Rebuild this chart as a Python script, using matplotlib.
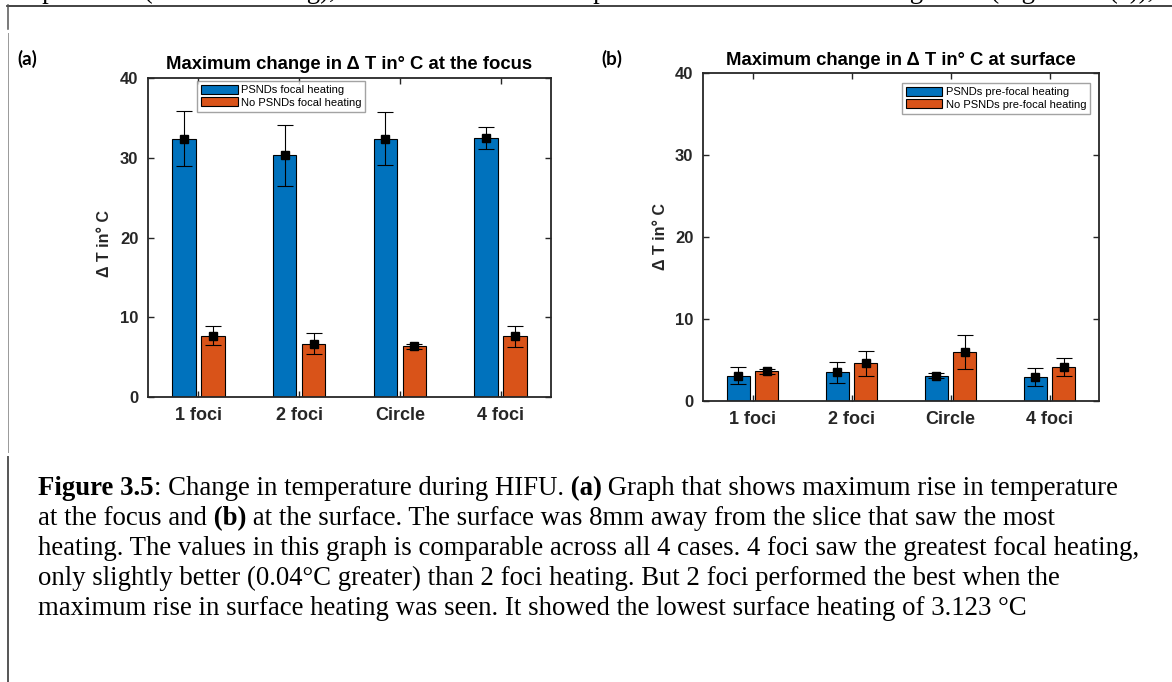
import numpy as np
import matplotlib
matplotlib.use("Agg")
import matplotlib.pyplot as plt

plt.rcParams['font.family'] = ['Liberation Sans', 'DejaVu Sans']
plt.rcParams['font.weight'] = 'bold'
plt.rcParams['axes.titleweight'] = 'bold'
plt.rcParams['axes.labelweight'] = 'bold'

# --- data ---
categories = ['1 foci', '2 foci', 'Circle', '4 foci']

focus_psnd = [32.4, 30.3, 32.4, 32.5]
focus_psnd_err = [3.4, 3.85, 3.3, 1.4]
focus_nopsnd = [7.7, 6.7, 6.35, 7.6]
focus_nopsnd_err = [1.15, 1.35, 0.35, 1.3]

surface_psnd = [3.1, 3.5, 3.1, 2.95]
surface_psnd_err = [1.0, 1.3, 0.35, 1.1]
surface_nopsnd = [3.6, 4.6, 5.95, 4.2]
surface_nopsnd_err = [0.3, 1.55, 2.05, 1.1]

yticks = [0, 10, 20, 30, 40]

blue = '#0072BD'
orange = '#D95319'
dark = '#262626'

W, H = 1172, 682
fig = plt.figure(figsize=(W / 100, H / 100), dpi=100)


def draw_panel(ax, psnd, psnd_err, nopsnd, nopsnd_err, title, leg_labels, leg_loc, leg_anchor, title_pad):
    x = np.arange(1, len(categories) + 1)
    off, w = 0.145, 0.233
    ax.bar(x - off, psnd, w, color=blue, edgecolor='k', linewidth=0.8, label=leg_labels[0])
    ax.bar(x + off, nopsnd, w, color=orange, edgecolor='k', linewidth=0.8, label=leg_labels[1])
    for xs, vals, errs in [(x - off, psnd, psnd_err), (x + off, nopsnd, nopsnd_err)]:
        ax.errorbar(xs, vals, yerr=errs, fmt='s', color='k', ms=5.5, ecolor='k',
                    elinewidth=0.8, capsize=5.5, capthick=0.8)
    ax.set_xlim(0.5, 4.5)
    ax.set_ylim(0, 40)
    ax.set_yticks(yticks)
    ax.set_xticks(x)
    ax.set_xticklabels(categories)
    ax.tick_params(direction='in', top=True, right=True, length=4, width=1,
                   color=dark, labelcolor=dark, labelsize=12)
    ax.tick_params(axis='y', pad=7)
    ax.tick_params(axis='x', pad=7, labelsize=13)
    for s in ax.spines.values():
        s.set_linewidth(1.3)
        s.set_color(dark)
    ax.set_title(title, fontsize=13.3, pad=title_pad, color='k')
    ax.set_ylabel('Δ T in° C', fontsize=11.5, color=dark)
    leg = ax.legend(loc=leg_loc, bbox_to_anchor=leg_anchor, borderaxespad=0,
                    prop={'size': 8, 'weight': 'normal'}, fancybox=False,
                    handlelength=3.3, handleheight=0.85, labelspacing=0.2,
                    borderpad=0.35, handletextpad=0.3)
    leg.get_frame().set_edgecolor('#8c8c8c')
    leg.get_frame().set_linewidth(1.0)
    return ax


ax1 = fig.add_axes([148 / W, 1 - 397 / H, 403 / W, 319 / H])
draw_panel(ax1, focus_psnd, focus_psnd_err, focus_nopsnd, focus_nopsnd_err,
           'Maximum change in Δ T in° C at the focus',
           ['PSNDs focal heating', 'No PSNDs focal heating'],
           'upper left', (0.1216, 0.9906), 6.5)
ax1.yaxis.set_label_coords(-0.089, 0.48)

ax2 = fig.add_axes([703 / W, 1 - 401 / H, 396 / W, 328 / H])
draw_panel(ax2, surface_psnd, surface_psnd_err, surface_nopsnd, surface_nopsnd_err,
           'Maximum change in Δ T in° C at surface',
           ['PSNDs pre-focal heating', 'No PSNDs pre-focal heating'],
           'upper right', (0.977, 0.9695), 6)
ax2.yaxis.set_label_coords(-0.088, 0.5)

# --- page overlay: frame lines, panel letters, caption ---
page = fig.add_axes([0, 0, 1, 1], zorder=-1)
page.set_xlim(0, W)
page.set_ylim(H, 0)
page.axis('off')

page.plot([7, W], [5.5, 5.5], color='#222222', lw=1.2)
page.plot([7.5, 7.5], [5, 29], color='#555555', lw=1.1)
page.plot([7.5, 7.5], [33, 452], color='#999999', lw=0.7)
page.plot([7.5, 7.5], [457, H], color='#555555', lw=1.4)

page.text(17, 65, '(a)', family='Lato', fontsize=13.5, fontweight='bold', color='k')
page.text(601, 65, '(b)', family='Lato', fontsize=13.5, fontweight='bold', color='k')

cap_fs = 19.3
serif = 'Liberation Serif'

# previous paragraph line, cut off by the top edge of the page crop
page.text(17, -1.5, 'experiment (without heating), the rise at the focal temperature and surface '
                    'in heating trials (Figure 3.5(a)),',
          family=serif, fontsize=cap_fs, fontweight='normal', va='baseline', ha='left', color='k')

caption = [
    [('Figure 3.5', True), (': Change in temperature during HIFU.', False), (' (a)', True),
     (' Graph that shows maximum rise in temperature', False)],
    [('at the focus and', False), (' (b)', True),
     (' at the surface. The surface was 8mm away from the slice that saw the most', False)],
    [('heating. The values in this graph is comparable across all 4 cases. 4 foci saw the greatest focal heating,', False)],
    [('only slightly better (0.04°C greater) than 2 foci heating. But 2 foci performed the best when the', False)],
    [('maximum rise in surface heating was seen. It showed the lowest surface heating of 3.123 °C', False)],
]

y0 = 495
for i, pieces in enumerate(caption):
    prev = None
    for s, bold in pieces:
        kw = dict(family=serif, fontsize=cap_fs, fontweight='bold' if bold else 'normal', color='k')
        if prev is None:
            prev = page.text(38, y0 + 30 * i, s, va='baseline', ha='left', **kw)
        else:
            prev = page.annotate(s, xy=(1, 0), xycoords=prev, va='bottom', ha='left', **kw)

fig.savefig('out.png', dpi=100)
